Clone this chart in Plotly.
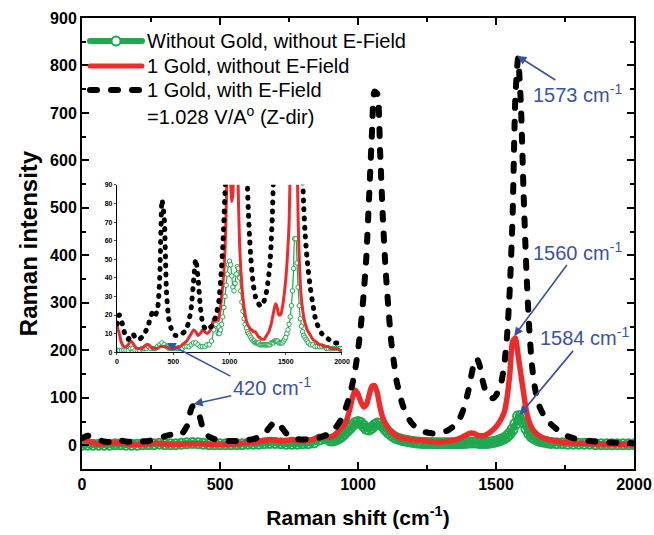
import plotly.graph_objects as go

# ---------------- data ----------------
raman_shift = list(range(0, 900, 20)) + list(range(900, 1710, 10)) + list(range(1720, 2001, 20))

without_gold = [
    # 0 .. 880 (step 20)
    1, 1, 1, 1, 1, 1, 2, 2, 1, 1, 1, 2, 2, 2, 3, 2, 2, 2, 3, 4, 5, 4, 3, 2, 2,
    2, 2, 2, 2, 2, 3, 3, 3, 4, 5, 5, 4, 3, 3, 3, 4, 4, 6, 12, 15,
    # 900 .. 1700 (step 10)
    10, 10, 12, 15, 19, 24, 30, 36, 42, 47,
    49, 47, 41, 35, 33, 37, 42, 46, 45, 40,
    33, 27, 22, 18, 15, 13, 11, 10, 9, 8,
    7, 6, 6, 5, 5, 5, 5, 4, 4, 4,
    4, 4, 4, 4, 4, 4, 4, 5, 5, 5,
    6, 6, 6, 6, 5, 5, 5, 5, 6, 7,
    8, 10, 12, 15, 19, 25, 33, 45, 61, 61,
    48, 35, 25, 18, 14, 11, 9, 8, 7, 6,
    5,
    # 1720 .. 2000 (step 20)
    4, 4, 3, 3, 3, 3, 3, 2, 2, 2, 2, 2, 2, 2, 2,
]

gold_no_field = [
    14, 10, 5, 3, 3, 4, 6, 5, 3, 2,
    2, 2, 3, 4, 4, 3, 2, 2, 2, 3,
    3, 3, 3, 2, 2, 2, 2, 3, 3, 4,
    5, 6, 8, 10, 12, 11, 9, 10, 12, 11,
    10, 11, 13, 18, 18,
    17, 20, 24, 30, 36, 43, 55, 75, 100, 116,
    108, 92, 81, 85, 105, 124, 126, 110, 80, 58,
    45, 36, 29, 24, 20, 17, 15, 14, 13, 12,
    12, 11, 11, 11, 10, 9, 8, 8, 7, 7,
    7, 7, 8, 9, 10, 11, 13, 15, 18, 21,
    24, 26, 25, 22, 20, 20, 21, 24, 28, 33,
    39, 47, 57, 70, 100, 150, 218, 226, 190, 150,
    110, 72, 50, 36, 28, 23, 19, 16, 14, 12,
    11,
    9, 7, 6, 5, 4, 4, 3, 3, 3, 2, 2, 2, 2, 1, 1,
]

gold_with_field = [
    15, 20, 17, 12, 8, 7, 9, 10, 8, 7,
    7, 8, 9, 12, 15, 19, 22, 20, 23, 40,
    82, 72, 32, 18, 13, 10, 9, 9, 9, 10,
    11, 13, 17, 24, 38, 50, 40, 25, 16, 13,
    12, 13, 14, 16, 20,
    25, 30, 38, 46, 56, 70, 86, 105, 130, 160,
    200, 250, 315, 395, 520, 650, 745, 740, 620, 480,
    370, 290, 220, 175, 135, 110, 88, 72, 60, 50,
    43, 37, 33, 30, 28, 27, 26, 25, 25, 25,
    26, 28, 30, 33, 37, 42, 48, 58, 72, 92,
    115, 145, 172, 183, 170, 140, 118, 106, 100, 99,
    105, 118, 135, 170, 230, 330, 480, 730, 815, 720,
    530, 370, 250, 170, 125, 95, 78, 66, 57, 50,
    44,
    34, 26, 19, 15, 12, 10, 9, 8, 7, 6, 6, 5, 5, 5, 4,
]

series_names = ["Without Gold, without E-Field", "1 Gold, without E-Field", "1 Gold, with E-Field"]
field_note = "=1.028 V/A<sup>o</sup> (Z-dir)"
x_ticks = [0, 500, 1000, 1500, 2000]
y_ticks = [0, 100, 200, 300, 400, 500, 600, 700, 800, 900]
inset_y_ticks = [0, 10, 20, 30, 40, 50, 60, 70, 80, 90]

# peak labels: (text, x of peak, y of peak)
peak_labels = [
    ("1573 cm<sup>-1</sup>", 1578, 820),
    ("1560 cm<sup>-1</sup>", 1566, 230),
    ("1584 cm<sup>-1</sup>", 1586, 64),
    ("420 cm<sup>-1</sup>", 405, 87),
]

# ---------------- styles ----------------
GREEN = "#1fa84f"
RED = "#ee2b2b"
BLACK = "#000000"
BLUE = "#3953a4"
FONT = "Liberation Sans, Arial, sans-serif"

fig = go.Figure()

# main plot traces
fig.add_trace(go.Scatter(
    x=raman_shift, y=without_gold, mode="lines+markers", name=series_names[0],
    line=dict(color=GREEN, width=6, shape="spline", smoothing=0.6),
    marker=dict(symbol="circle-open", size=10, color=GREEN, line=dict(color=GREEN, width=2)),
    showlegend=False))
fig.add_trace(go.Scatter(
    x=raman_shift, y=gold_no_field, mode="lines", name=series_names[1],
    line=dict(color=RED, width=5.5, shape="spline", smoothing=0.6), showlegend=False))
fig.add_trace(go.Scatter(
    x=raman_shift, y=gold_with_field, mode="lines", name=series_names[2],
    line=dict(color=BLACK, width=6, dash="7px,14px", shape="spline", smoothing=0.6), showlegend=False))

# inset traces
fig.add_trace(go.Scatter(
    x=raman_shift, y=without_gold, mode="lines+markers", xaxis="x2", yaxis="y2",
    line=dict(color=GREEN, width=1.2, shape="spline", smoothing=0.6),
    marker=dict(symbol="circle", size=4.5, color="white", line=dict(color=GREEN, width=1)),
    showlegend=False))
fig.add_trace(go.Scatter(
    x=raman_shift, y=gold_no_field, mode="lines", xaxis="x2", yaxis="y2",
    line=dict(color=RED, width=3, shape="spline", smoothing=0.6), showlegend=False))
fig.add_trace(go.Scatter(
    x=raman_shift, y=gold_with_field, mode="lines", xaxis="x2", yaxis="y2",
    line=dict(color=BLACK, width=5, dash="1px,8px", shape="spline", smoothing=0.6), showlegend=False))

# ---------------- layout ----------------
L, R, T, B, W, H = 82, 20, 18, 66, 654, 535
PW, PH = W - L - R, H - T - B


def px2paper(px, py):
    return (px - L) / PW, (H - B - py) / PH


axis_common = dict(showline=True, linewidth=2, linecolor="black", mirror="ticks",
                   ticks="inside", ticklen=7, tickwidth=2, tickcolor="black",
                   showgrid=False, zeroline=False, automargin=False,
                   tickfont=dict(family=FONT, size=16, color="black", weight="bold"))

fig.update_layout(
    width=W, height=H, autosize=False,
    margin=dict(l=L, r=R, t=T, b=B),
    plot_bgcolor="white", paper_bgcolor="white",
    font=dict(family=FONT, color="black"),
    xaxis=dict(range=[0, 2000], tickvals=x_ticks,
               minor=dict(ticks="inside", ticklen=4, tickwidth=1.5, dtick=250, tick0=0, tickcolor="black"),
               title=dict(text="Raman shift (cm<sup>-1</sup>)", standoff=18,
                          font=dict(family=FONT, size=21, weight="bold")),
               **axis_common),
    yaxis=dict(range=[-50, 900], tickvals=y_ticks,
               minor=dict(ticks="inside", ticklen=4, tickwidth=1.5, dtick=50, tick0=0, tickcolor="black"),
               title=dict(text="Raman intensity", standoff=6,
                          font=dict(family=FONT, size=24, weight="bold")),
               **axis_common),
    xaxis2=dict(domain=[0.0634, 0.471], anchor="y2", range=[0, 2000], tickvals=x_ticks,
                showline=True, linewidth=1.2, linecolor="black", ticks="outside", ticklen=2,
                tickwidth=1, showgrid=False, zeroline=False, automargin=False,
                tickfont=dict(family=FONT, size=7, weight="bold")),
    yaxis2=dict(domain=[0.259, 0.630], anchor="x2", range=[0, 90], tickvals=inset_y_ticks,
                showline=True, linewidth=1.2, linecolor="black", ticks="outside", ticklen=2,
                tickwidth=1, showgrid=False, zeroline=False, automargin=False,
                tickfont=dict(family=FONT, size=7, weight="bold")),
)

# ---------------- manual legend ----------------
rows_py = [41, 66, 90]
x0p, _ = px2paper(90, 0)
x1p, _ = px2paper(142, 0)
xcp, _ = px2paper(116, 0)
xtp, _ = px2paper(145, 0)
styles = [dict(color=GREEN, width=6), dict(color=RED, width=5), dict(color=BLACK, width=6, dash="7px,14px")]
for name, py, st in zip(series_names, rows_py, styles):
    _, yp = px2paper(0, py)
    fig.add_shape(type="line", xref="paper", yref="paper", x0=x0p, x1=x1p, y0=yp, y1=yp, line=st)
    fig.add_annotation(xref="paper", yref="paper", x=xtp, y=yp, text=name, showarrow=False,
                       xanchor="left", yanchor="middle", font=dict(family=FONT, size=20, color="black"))
_, yp0 = px2paper(0, rows_py[0])
fig.add_shape(type="circle", xref="paper", yref="paper", xsizemode="pixel", ysizemode="pixel",
              xanchor=xcp, yanchor=yp0, x0=-4.5, x1=4.5, y0=-4.5, y1=4.5,
              fillcolor="white", line=dict(color=GREEN, width=2))
_, yp4 = px2paper(0, 115)
fig.add_annotation(xref="paper", yref="paper", x=xtp, y=yp4, text=field_note, showarrow=False,
                   xanchor="left", yanchor="middle", font=dict(family=FONT, size=20, color="black"))

# ---------------- peak annotations (text box placed at arrow tail) ----------------
arrow = dict(showarrow=True, arrowhead=2, arrowsize=1.1, arrowwidth=1.6, arrowcolor=BLUE, standoff=0)
offsets = [(60, 38), (63, -85), (65, -78), (78, -17)]
for (txt, xp, yp), (ax, ay) in zip(peak_labels, offsets):
    fig.add_annotation(x=xp, y=yp, xref="x", yref="y", text=txt, ax=ax, ay=ay,
                       font=dict(family=FONT, size=20, color=BLUE), **arrow)

# second arrow of the 420 cm-1 label, pointing into the inset
fig.add_annotation(x=444, y=5, xref="x2", yref="y2", text="", ax=65, ay=34, **arrow)

post = """
var gd = document.getElementById('{plot_id}');
gd.querySelectorAll('path.js-line, .shapelayer path').forEach(function(p){ p.style.strokeLinecap='round'; });
"""
fig.write_html("out.html", post_script=post)
